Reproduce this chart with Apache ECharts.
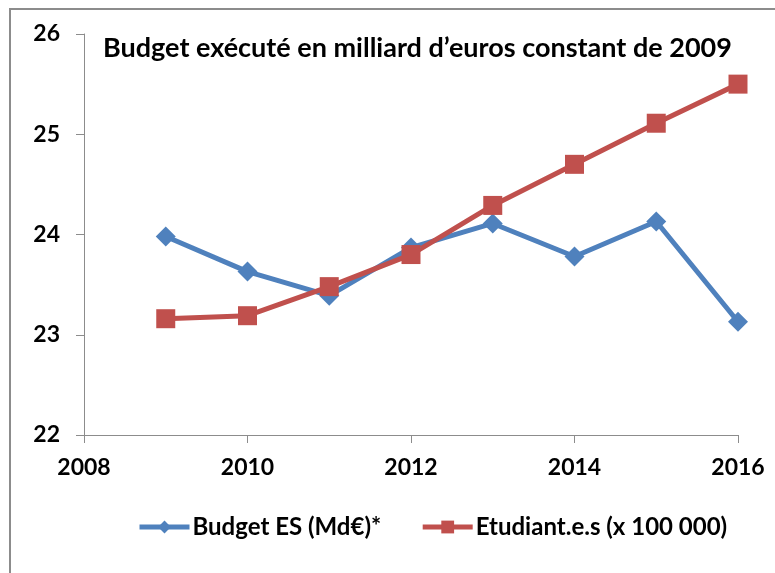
<!DOCTYPE html>
<html>
<head>
<meta charset="utf-8">
<script src="https://cdn.jsdelivr.net/npm/echarts@6/dist/echarts.min.js"></script>
<style>
  html, body { margin: 0; padding: 0; background: #fff; }
  #chart { width: 775px; height: 573px; }
  .frame { position: absolute; left: 9px; top: 8px; width: 800px; height: 600px;
           border-left: 2px solid #8c8c8c; border-top: 2px solid #8c8c8c; pointer-events: none; }
</style>
</head>
<body>
<div id="chart"></div>
<div class="frame"></div>
<script>
const years = [2009, 2010, 2011, 2012, 2013, 2014, 2015, 2016];
const budget = [23.98, 23.63, 23.39, 23.87, 24.11, 23.78, 24.13, 23.13];
const etudiants = [23.16, 23.19, 23.48, 23.80, 24.29, 24.70, 25.11, 25.50];
const seriesNames = ['Budget ES (Md€)*', 'Etudiant.e.s (x 100 000)'];
const titleText = 'Budget exécuté en milliard d’euros constant de 2009';

const font = 'Lato, "Open Sans", sans-serif';
const chart = echarts.init(document.getElementById('chart'));

chart.setOption({
  animation: false,
  textStyle: { fontFamily: font },
  title: {
    text: titleText,
    left: 98, top: 30,
    textStyle: { fontFamily: font, fontWeight: 'bold', fontSize: 27, color: '#000' }
  },
  grid: { left: 84, right: 37, top: 34, bottom: 138 },
  legend: {
    top: 510, left: 132,
    itemWidth: 50, itemHeight: 16, itemGap: 39,
    lineStyle: { width: 5 },
    textStyle: { fontFamily: font, fontWeight: 'bold', fontSize: 24, color: '#000', padding: [0, 0, 0, -2] },
    data: seriesNames
  },
  xAxis: {
    type: 'value', min: 2008, max: 2016, interval: 2,
    axisLine: { lineStyle: { color: '#8c8c8c', width: 1 } },
    axisTick: { show: true, length: 8, lineStyle: { color: '#8c8c8c' } },
    splitLine: { show: false },
    axisLabel: {
      margin: 21, fontFamily: font, fontWeight: 'bold', fontSize: 23, color: '#000',
      formatter: v => String(v)
    }
  },
  yAxis: {
    type: 'value', min: 22, max: 26, interval: 1,
    axisLine: { show: true, lineStyle: { color: '#8c8c8c', width: 1 } },
    axisTick: { show: true, length: 8, lineStyle: { color: '#8c8c8c' } },
    splitLine: { show: false },
    axisLabel: { margin: 24, fontFamily: font, fontWeight: 'bold', fontSize: 23, color: '#000' }
  },
  series: [
    {
      name: seriesNames[0], type: 'line',
      data: years.map((y, i) => [y, budget[i]]),
      symbol: 'diamond', symbolSize: 20,
      lineStyle: { width: 5, color: '#4F81BD' },
      itemStyle: { color: '#4F81BD' }
    },
    {
      name: seriesNames[1], type: 'line',
      data: years.map((y, i) => [y, etudiants[i]]),
      symbol: 'rect', symbolSize: 19,
      lineStyle: { width: 5, color: '#C0504D' },
      itemStyle: { color: '#C0504D' }
    }
  ]
});
</script>
</body>
</html>
